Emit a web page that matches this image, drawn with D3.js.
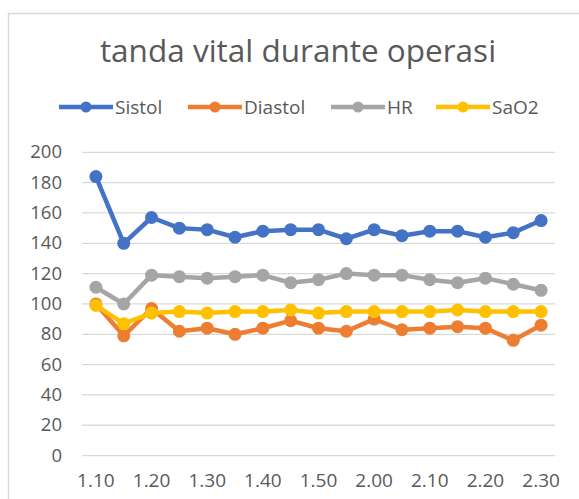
<!DOCTYPE html>
<html>
<head>
<meta charset="utf-8">
<script src="https://cdn.jsdelivr.net/npm/d3@7"></script>
<style>
  body { margin: 0; background: #fff; }
  text { font-family: "Open Sans", sans-serif; fill: #595959; }
</style>
</head>
<body>
<script>
// données
const categories = ["1.10","1.15","1.20","1.25","1.30","1.35","1.40","1.45","1.50","1.55","2.00","2.05","2.10","2.15","2.20","2.25","2.30"];
const sistol  = [184,140,157,150,149,144,148,149,149,143,149,145,148,148,144,147,155];
const diastol = [100,79,97,82,84,80,84,89,84,82,90,83,84,85,84,76,86];
const hr      = [111,100,119,118,117,118,119,114,116,120,119,119,116,114,117,113,109];
const sao2    = [99,87,94,95,94,95,95,96,94,95,95,95,95,96,95,95,95];
const yTicks  = [0,20,40,60,80,100,120,140,160,180,200];
const seriesNames = ["Sistol","Diastol","HR","SaO2"];
const colors = ["#4472C4","#ED7D31","#A5A5A5","#FFC000"];

const series = [sistol, diastol, hr, sao2].map((v, i) => ({ name: seriesNames[i], values: v, color: colors[i] }));

const svg = d3.select("body").append("svg").attr("width", 579).attr("height", 499);

// cadre
svg.append("rect").attr("x", 8.5).attr("y", 13.5).attr("width", 600).attr("height", 600)
  .attr("fill", "#fff").attr("stroke", "#D9D9D9").attr("stroke-width", 1.5);

// titre
svg.append("text").text("tanda vital durante operasi")
  .attr("x", 298).attr("y", 62).attr("text-anchor", "middle")
  .style("font-size", "31.5px");

const x = d3.scaleBand().domain(categories).range([82, 555]).padding(0);
const y = d3.scaleLinear().domain([0, 200]).range([455.6, 152.3]);

// grille
svg.append("g").selectAll("line").data(yTicks).enter().append("line")
  .attr("x1", 82).attr("x2", 555)
  .attr("y1", d => y(d)).attr("y2", d => y(d))
  .attr("stroke", "#D9D9D9").attr("stroke-width", 1.3);

// axe y
const yAxis = svg.append("g").attr("transform", "translate(62,0)")
  .call(d3.axisLeft(y).tickValues(yTicks).tickSize(0).tickPadding(0));
yAxis.select(".domain").remove();
yAxis.selectAll("text").style("font-size", "18.5px").attr("fill", "#595959").attr("dy", "0.3em")
  .style("font-family", "'Open Sans', sans-serif");

// axe x
const xAxis = svg.append("g").attr("transform", "translate(0,455.6)")
  .call(d3.axisBottom(x).tickValues(categories.filter((c, i) => i % 2 === 0)).tickSize(0).tickPadding(18));
xAxis.select(".domain").remove();
xAxis.selectAll("text").style("font-size", "19px").attr("fill", "#595959")
  .style("font-family", "'Open Sans', sans-serif");

// lignes
const line = d3.line().x((d, i) => x(categories[i]) + x.bandwidth() / 2).y(d => y(d));

series.forEach(s => {
  svg.append("path").datum(s.values).attr("d", line)
    .attr("fill", "none").attr("stroke", s.color).attr("stroke-width", 4.5).attr("stroke-linejoin", "round");
  svg.append("g").selectAll("circle").data(s.values).enter().append("circle")
    .attr("cx", (d, i) => x(categories[i]) + x.bandwidth() / 2)
    .attr("cy", d => y(d)).attr("r", 6.5).attr("fill", s.color);
});

// légende
const legendX = [59, 188, 331, 436];
const legend = svg.append("g").selectAll("g").data(series).enter().append("g")
  .attr("transform", (d, i) => `translate(${legendX[i]},107)`);
legend.append("line").attr("x1", 0).attr("x2", 54).attr("y1", 0).attr("y2", 0)
  .attr("stroke", d => d.color).attr("stroke-width", 4.5);
legend.append("circle").attr("cx", 27).attr("cy", 0).attr("r", 5.5).attr("fill", d => d.color);
legend.append("text").text(d => d.name).attr("x", 56).attr("y", 0).attr("dy", "0.35em")
  .style("font-size", "19px");
</script>
</body>
</html>
